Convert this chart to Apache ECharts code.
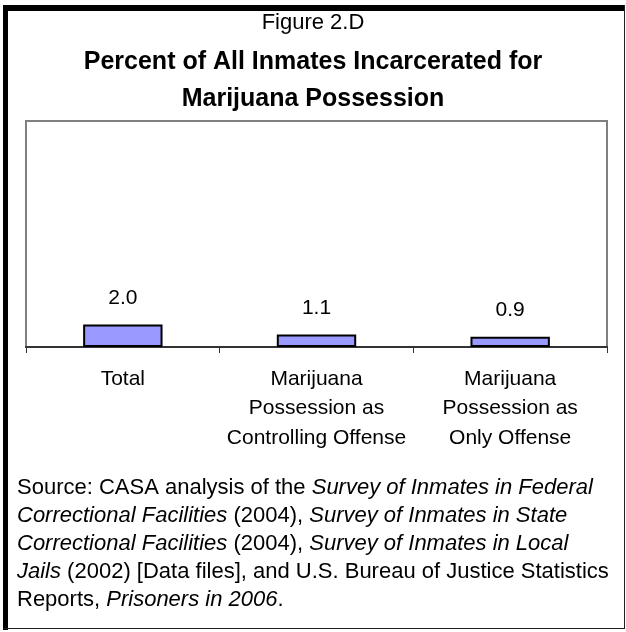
<!DOCTYPE html>
<html>
<head>
<meta charset="utf-8">
<script src="https://cdn.jsdelivr.net/npm/echarts@6/dist/echarts.min.js"></script>
<style>
  html, body { margin: 0; padding: 0; background: #ffffff; }
  #chart { width: 626px; height: 632px; }
</style>
</head>
<body>
<div id="chart"></div>
<script>
  // chart data
  var categories = ['Total', 'Marijuana\nPossession as\nControlling Offense', 'Marijuana\nPossession as\nOnly Offense'];
  var percents = [2.0, 1.1, 0.9];
  var valueMax = 20;

  var figureLabel = 'Figure 2.D';
  var titleLines = ['Percent of All Inmates Incarcerated for', 'Marijuana Possession'];

  // source note, {i|...} marks italic parts
  var sourceLines = [
    'Source: CASA analysis of the {i|Survey of Inmates in Federal}',
    '{i|Correctional Facilities} (2004), {i|Survey of Inmates in State}',
    '{i|Correctional Facilities} (2004), {i|Survey of Inmates in Local}',
    '{i|Jails} (2002) [Data files], and U.S. Bureau of Justice Statistics',
    'Reports, {i|Prisoners in 2006}.'
  ];

  var font = '"Liberation Sans", Arial, sans-serif';

  var chartDom = document.getElementById('chart');
  var myChart = echarts.init(chartDom);
  var option;

  option = {
    backgroundColor: '#ffffff',
    title: [
      {
        text: figureLabel,
        left: 'center',
        top: 7,
        textStyle: { fontFamily: font, fontSize: 22, fontWeight: 'normal', color: '#000' }
      },
      {
        text: titleLines.join('\n'),
        left: 'center',
        top: 39,
        textStyle: { fontFamily: font, fontSize: 25, fontWeight: 'bold', color: '#000', lineHeight: 37 }
      }
    ],
    grid: {
      left: 26,
      right: 19,
      top: 121,
      bottom: 285,
      show: true,
      borderColor: '#808080',
      borderWidth: 2,
      backgroundColor: '#ffffff'
    },
    xAxis: {
      type: 'category',
      data: categories,
      axisLine: { lineStyle: { color: '#333', width: 2 } },
      axisTick: { show: true, length: 6, lineStyle: { color: '#333', width: 1 } },
      axisLabel: {
        margin: 17,
        color: '#000',
        fontFamily: font,
        fontSize: 21,
        lineHeight: 29.5,
        interval: 0
      }
    },
    yAxis: {
      type: 'value',
      min: 0,
      max: valueMax,
      show: false,
      splitLine: { show: false }
    },
    series: [
      {
        type: 'bar',
        data: percents,
        barWidth: '41%',
        itemStyle: { color: '#9999ff', borderColor: '#000', borderWidth: 2 },
        label: {
          show: true,
          position: 'top',
          distance: 16,
          color: '#000',
          fontFamily: font,
          fontSize: 21,
          formatter: function (p) { return p.value.toFixed(1); }
        },
        silent: true
      }
    ],
    graphic: [
      // frame: heavy top and left, thin right and bottom
      { type: 'rect', shape: { x: 3, y: 5, width: 622, height: 6 }, style: { fill: '#000' } },
      { type: 'rect', shape: { x: 3, y: 5, width: 5, height: 625 }, style: { fill: '#000' } },
      { type: 'line', shape: { x1: 624.5, y1: 5, x2: 624.5, y2: 629 }, style: { stroke: '#222', lineWidth: 1 } },
      { type: 'line', shape: { x1: 3, y1: 628.5, x2: 625, y2: 628.5 }, style: { stroke: '#222', lineWidth: 1 } },
      {
        type: 'text',
        left: 17,
        top: 474,
        style: {
          text: sourceLines.join('\n'),
          fill: '#000',
          font: '22px ' + font,
          lineHeight: 28,
          rich: {
            i: { fontStyle: 'italic', fontFamily: font, fontSize: 22, lineHeight: 28, fill: '#000' }
          }
        }
      }
    ]
  };

  option && myChart.setOption(option);
</script>
</body>
</html>
